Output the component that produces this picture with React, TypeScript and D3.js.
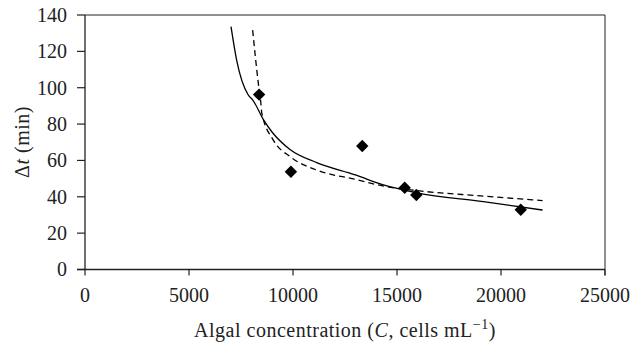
import React from "react";
import * as d3 from "d3";

const xTicks = [0, 5000, 10000, 15000, 20000, 25000];
const yTicks = [0, 20, 40, 60, 80, 100, 120, 140];

const obsC = [8370, 9900, 13330, 15370, 15930, 20950];
const obsT = [96.2, 53.8, 67.9, 45.0, 41.0, 32.9];

const solidC = [7020, 7290, 7850, 8050, 8600, 9000, 9856, 11138, 13000, 14343, 15950, 19150, 22000];
const solidT = [133.6, 115.2, 96.0, 93.5, 82.0, 75.5, 66.0, 58.8, 52.0, 46.5, 42.2, 37.3, 32.7];

const dashC = [8060, 8333, 8450, 8500, 9054, 9856, 11138, 13000, 14343, 15950, 19150, 22000];
const dashT = [131.7, 102.4, 92.0, 86.0, 71.2, 62.1, 54.7, 49.6, 45.9, 43.4, 40.4, 37.9];

export default function App() {
  const W = 643, H = 345;
  const L = 85, R = 605, T = 15, B = 269.5;
  const x = d3.scaleLinear().domain([0, 25000]).range([L, R]);
  const y = d3.scaleLinear().domain([0, 140]).range([B, T]);
  const line = d3
    .line<[number, number]>()
    .x((d) => x(d[0]))
    .y((d) => y(d[1]))
    .curve(d3.curveMonotoneX);
  const solid = line(solidC.map((c, i) => [c, solidT[i]] as [number, number])) || "";
  const dashed = line(dashC.map((c, i) => [c, dashT[i]] as [number, number])) || "";
  const font = "'Liberation Serif', 'DejaVu Serif', serif";
  const s = 6.2;
  return (
    <svg
      width={W}
      height={H}
      style={{ position: "absolute", left: 0, top: 0, background: "#fff" }}
      fontFamily={font}
    >
      <rect x={0} y={0} width={W} height={H} fill="#fff" />
      {/* frame */}
      <line x1={L} y1={T} x2={R} y2={T} stroke="#222" strokeWidth={1} />
      <line x1={R} y1={T} x2={R} y2={B + 6} stroke="#222" strokeWidth={1} />
      <line x1={L} y1={T} x2={L} y2={B} stroke="#222" strokeWidth={1.3} />
      <line x1={L - 8} y1={B} x2={R} y2={B} stroke="#222" strokeWidth={1.3} />
      {yTicks.map((t) => (
        <g key={"y" + t}>
          <line x1={L - 8} x2={L} y1={y(t)} y2={y(t)} stroke="#222" strokeWidth={1.2} />
          <text x={67} y={y(t)} dy="0.34em" textAnchor="end" fontSize={20} fill="#222">
            {t}
          </text>
        </g>
      ))}
      {xTicks.map((t) => (
        <g key={"x" + t}>
          <line x1={x(t)} x2={x(t)} y1={B} y2={B + 6} stroke="#222" strokeWidth={1.2} />
          <text x={x(t)} y={301.5} textAnchor="middle" fontSize={20} fill="#222">
            {t}
          </text>
        </g>
      ))}
      <text
        x={(L + R) / 2}
        y={337}
        textAnchor="middle"
        fontSize={20}
        letterSpacing={0.5}
        fill="#222"
      >
        Algal concentration (<tspan fontStyle="italic">C</tspan>, cells mL
        <tspan dy={-8} fontSize={14}>−1</tspan>
        <tspan dy={8}>)</tspan>
      </text>
      <text
        transform={`translate(28.5, 142) rotate(-90)`}
        textAnchor="middle"
        fontSize={20}
        letterSpacing={0.5}
        fill="#222"
      >
        Δ<tspan fontStyle="italic">t</tspan> (min)
      </text>
      <path d={solid} fill="none" stroke="#000" strokeWidth={1.3} />
      <path d={dashed} fill="none" stroke="#000" strokeWidth={1.3} strokeDasharray="6,4" />
      {obsC.map((c, i) => (
        <path
          key={"p" + i}
          d={`M${x(c)},${y(obsT[i]) - s}L${x(c) + s},${y(obsT[i])}L${x(c)},${y(obsT[i]) + s}L${x(c) - s},${y(obsT[i])}Z`}
          fill="#000"
        />
      ))}
    </svg>
  );
}
